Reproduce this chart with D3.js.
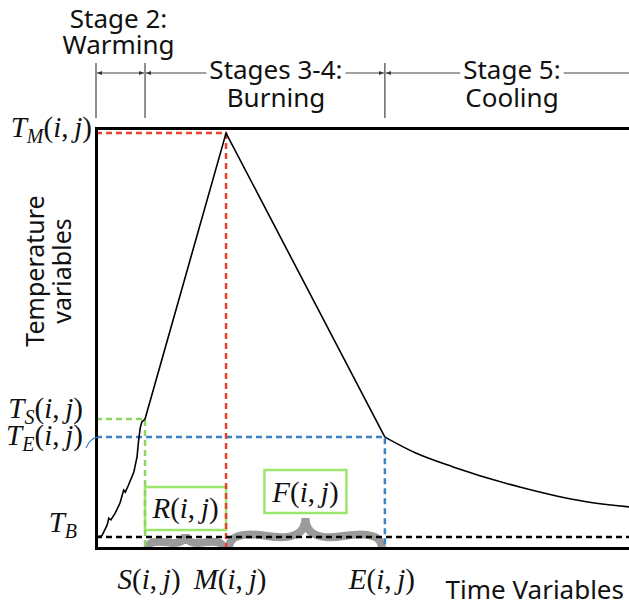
<!DOCTYPE html>
<html>
<head>
<meta charset="utf-8">
<script src="https://cdn.jsdelivr.net/npm/d3@7"></script>
<style>
  body { margin: 0; background: #fff; }
  svg { display: block; }
</style>
</head>
<body>
<script>
// time variables (x, arbitrary units 0-100)
var phaseNames = ["S", "M", "E"];
var phaseTimes = [9.2, 24.4, 54.2];

// temperature variables (y, arbitrary units 0-100)
var tempNames = ["B", "E", "S", "M"];
var tempValues = [2.6, 26.4, 30.7, 98.8];

// stage 2: warming (noisy rise)
var warmTime = [0, 1.1, 2.1, 2.4, 2.8, 3.6, 4.5, 5.2, 5.5, 6.1, 7.1, 7.7, 8.0, 8.3, 8.6, 9.2];
var warmTemp = [2.6, 2.9, 5.5, 7.1, 6.7, 8.3, 10.7, 13.8, 13.3, 15.0, 18.1, 21.7, 25.7, 28.6, 30.0, 30.7];
// stages 3-4: burning
var burnTime = [9.2, 24.4, 54.2];
var burnTemp = [30.7, 98.8, 26.4];
// stage 5: cooling
var coolTime = [54.2, 60, 67, 79.5, 92, 100];
var coolTemp = [26.4, 22.6, 19.3, 14.5, 11.0, 9.8];

var stageTitles = [["Stage 2:", "Warming"], ["Stages 3-4:", "Burning"], ["Stage 5:", "Cooling"]];
var stageStart = [0, 9.2, 54.2];
var stageEnd = [9.2, 54.2, 100];

var width = 629, height = 613;
var sans = "'Noto Sans', sans-serif";
var serif = "'Liberation Serif', 'Times New Roman', serif";
var mathSize = 29, subSize = 20, sansSize = 26;

var svg = d3.select("body").append("svg")
    .attr("width", width)
    .attr("height", height);

var x = d3.scaleLinear().domain([0, 100]).range([96, 629]);
var y = d3.scaleLinear().domain([0, 100]).range([548, 128]);

var phase = {}, temp = {};
phaseNames.forEach(function(n, i) { phase[n] = phaseTimes[i]; });
tempNames.forEach(function(n, i) { temp[n] = tempValues[i]; });

var zip = function(ts, vs) { return ts.map(function(t, i) { return {t: t, v: vs[i]}; }); };

// curly brace pointing up, ends at (x1,y1),(x2,y2)
var brace = function(x1, y1, x2, y2, w, q) {
    var dx = x1 - x2, dy = y1 - y2;
    var len = Math.sqrt(dx * dx + dy * dy);
    dx = dx / len; dy = dy / len;
    var qx1 = x1 + q * w * dy, qy1 = y1 - q * w * dx;
    var qx2 = (x1 - .25 * len * dx) + (1 - q) * w * dy, qy2 = (y1 - .25 * len * dy) - (1 - q) * w * dx;
    var tx1 = (x1 - .5 * len * dx) + w * dy, ty1 = (y1 - .5 * len * dy) - w * dx;
    var qx3 = x2 + q * w * dy, qy3 = y2 - q * w * dx;
    var qx4 = (x1 - .75 * len * dx) + (1 - q) * w * dy, qy4 = (y1 - .75 * len * dy) - (1 - q) * w * dx;
    return "M" + x1 + "," + y1 + "Q" + qx1 + "," + qy1 + " " + qx2 + "," + qy2 + "T" + tx1 + "," + ty1 +
           "M" + x2 + "," + y2 + "Q" + qx3 + "," + qy3 + " " + qx4 + "," + qy4 + "T" + tx1 + "," + ty1;
};

// math label like T_M(i, j)
var mathLabel = function(sel, base, sub) {
    sel.attr("font-family", serif).attr("font-size", mathSize).attr("fill", "#111");
    sel.append("tspan").attr("font-style", "italic").text(base);
    if (sub) {
        sel.append("tspan").attr("font-style", "italic").attr("font-size", subSize).attr("dy", 6).text(sub);
        sel.append("tspan").attr("dy", -6).text("(");
    } else {
        sel.append("tspan").text("(");
    }
    sel.append("tspan").attr("font-style", "italic").text("i");
    sel.append("tspan").text(",\u2009");
    sel.append("tspan").attr("font-style", "italic").text("j");
    sel.append("tspan").text(")");
};

// braces
var braceColor = "#9b9b9b";
svg.append("path")
    .attr("d", brace(x(phase.M) - 3, 548, x(phase.S) + 3, 548, 14, 0.6))
    .attr("fill", "none").attr("stroke", braceColor).attr("stroke-width", 8);
svg.append("path")
    .attr("d", brace(x(phase.E) - 3, 548, x(phase.M) + 3, 548, 30, 0.6))
    .attr("fill", "none").attr("stroke", braceColor).attr("stroke-width", 8);

// green boxes
var boxColor = "#9be66f";
svg.append("rect")
    .attr("x", x(phase.S)).attr("y", 487)
    .attr("width", x(phase.M) - x(phase.S)).attr("height", 43)
    .attr("fill", "#fff").attr("stroke", boxColor).attr("stroke-width", 2.5);
var fMid = (x(phase.M) + x(phase.E)) / 2;
svg.append("rect")
    .attr("x", fMid - 41).attr("y", 470)
    .attr("width", 82).attr("height", 43)
    .attr("fill", "#fff").attr("stroke", boxColor).attr("stroke-width", 2.5);
svg.append("text").attr("x", (x(phase.S) + x(phase.M)) / 2).attr("y", 518)
    .attr("text-anchor", "middle").call(mathLabel, "R");
svg.append("text").attr("x", fMid).attr("y", 502)
    .attr("text-anchor", "middle").call(mathLabel, "F");

// guide lines
var guides = [
    {t: phase.S, v: temp.S, color: "#8fd65e"},
    {t: phase.E, v: temp.E, color: "#3b82c6"},
    {t: phase.M, v: temp.M, color: "#e8412c"}
];
guides.forEach(function(g) {
    svg.append("path")
        .attr("d", "M" + x(0) + "," + y(g.v) + "H" + x(g.t) + "V" + y(0))
        .attr("fill", "none").attr("stroke", g.color)
        .attr("stroke-width", 2.5).attr("stroke-dasharray", "6,4");
});

// T_B baseline
svg.append("line")
    .attr("x1", x(0)).attr("x2", x(100)).attr("y1", y(temp.B)).attr("y2", y(temp.B))
    .attr("stroke", "#000").attr("stroke-width", 2.5).attr("stroke-dasharray", "6,4");

// temperature curve
var line = d3.line().x(function(d) { return x(d.t); }).y(function(d) { return y(d.v); });
svg.append("path")
    .attr("d", line(zip(warmTime, warmTemp).concat(zip(burnTime, burnTemp).slice(1))))
    .attr("fill", "none").attr("stroke", "#000").attr("stroke-width", 1.6)
    .attr("stroke-linejoin", "miter");
svg.append("path")
    .attr("d", line.curve(d3.curveMonotoneX)(zip(coolTime, coolTemp)))
    .attr("fill", "none").attr("stroke", "#000").attr("stroke-width", 1.6);

// frame: left, bottom and top axes without ticks
var frame = [
    {axis: d3.axisLeft(y), tr: "translate(" + x(0) + ",0)"},
    {axis: d3.axisBottom(x), tr: "translate(0," + y(0) + ")"},
    {axis: d3.axisTop(x), tr: "translate(0," + y(100) + ")"}
];
frame.forEach(function(f) {
    var g = svg.append("g").attr("transform", f.tr)
        .call(f.axis.tickValues([]).tickSizeOuter(0));
    g.select(".domain").attr("stroke-width", 3).attr("stroke-linecap", "square");
});

// temperature labels
var tempLabelDx = {B: -19, E: -13, S: -13, M: -4};
var tempLabelDy = {B: -5, E: 8, S: -1, M: 4};
tempNames.forEach(function(n) {
    var t = svg.append("text")
        .attr("x", x(0) + tempLabelDx[n])
        .attr("y", y(temp[n]) + tempLabelDy[n])
        .attr("text-anchor", "end");
    if (n === "B") {
        t.attr("font-family", serif).attr("font-size", mathSize).attr("fill", "#111");
        t.append("tspan").attr("font-style", "italic").text("T");
        t.append("tspan").attr("font-style", "italic").attr("font-size", subSize).attr("dy", 6).text("B");
    } else {
        mathLabel(t, "T", n);
    }
});
// connector from T_E label
svg.append("path")
    .attr("d", "M86," + (y(temp.E) + 11) + "Q90," + (y(temp.E) + 1) + " " + (x(0) + 2) + "," + y(temp.E))
    .attr("fill", "none").attr("stroke", "#3b82c6").attr("stroke-width", 1.2);

// time labels
var phaseLabelDx = {S: 4, M: 4, E: -3};
phaseNames.forEach(function(n) {
    svg.append("text")
        .attr("x", x(phase[n]) + phaseLabelDx[n]).attr("y", 589)
        .attr("text-anchor", "middle").call(mathLabel, n);
});

svg.append("text")
    .attr("x", 624).attr("y", 599).attr("text-anchor", "end")
    .attr("font-family", sans).attr("font-size", sansSize).attr("fill", "#111")
    .text("Time Variables");

// y axis title
[["Temperature", 44], ["variables", 71]].forEach(function(d) {
    svg.append("text")
        .attr("transform", "translate(" + d[1] + ",271) rotate(-90)")
        .attr("text-anchor", "middle")
        .attr("font-family", sans).attr("font-size", 25).attr("fill", "#111")
        .text(d[0]);
});

// stage annotations
var defs = svg.append("defs");
defs.append("marker").attr("id", "arr")
    .attr("viewBox", "0 0 10 10").attr("refX", 10).attr("refY", 5)
    .attr("markerWidth", 5).attr("markerHeight", 5).attr("markerUnits", "userSpaceOnUse")
    .attr("orient", "auto-start-reverse")
    .append("path").attr("d", "M0,1L10,5L0,9z").attr("fill", "#333");

var annColor = "#444";
var arrowY = 73;
[0, phase.S, phase.E].forEach(function(t) {
    svg.append("line")
        .attr("x1", x(t)).attr("x2", x(t)).attr("y1", 63).attr("y2", 118)
        .attr("stroke", annColor).attr("stroke-width", 1.2);
});

var stageShift = [-2, 11, 5];
stageTitles.forEach(function(lines, i) {
    var cx = (x(stageStart[i]) + x(stageEnd[i])) / 2 + stageShift[i];
    var above = i === 0;
    var y1 = above ? 28 : 79, y2 = above ? 54 : 107;
    var t1 = svg.append("text").attr("x", cx).attr("y", y1)
        .attr("text-anchor", "middle").attr("font-family", sans)
        .attr("font-size", sansSize).attr("fill", "#111").text(lines[0]);
    svg.append("text").attr("x", cx).attr("y", y2)
        .attr("text-anchor", "middle").attr("font-family", sans)
        .attr("font-size", sansSize).attr("fill", "#111").text(lines[1]);

    var a = x(stageStart[i]) + 1, b = x(stageEnd[i]) - 1;
    var seg = function(p, q, ms, me) {
        var l = svg.append("line")
            .attr("x1", p).attr("x2", q).attr("y1", arrowY).attr("y2", arrowY)
            .attr("stroke", annColor).attr("stroke-width", 1.2);
        if (ms) l.attr("marker-start", "url(#arr)");
        if (me) l.attr("marker-end", "url(#arr)");
    };
    if (above) {
        seg(a, b, true, true);
    } else {
        var w = t1.node().getComputedTextLength();
        seg(a, cx - w / 2 - 3, true, false);
        seg(cx + w / 2 + 3, i === 2 ? width : b, false, i !== 2);
    }
});
</script>
</body>
</html>
